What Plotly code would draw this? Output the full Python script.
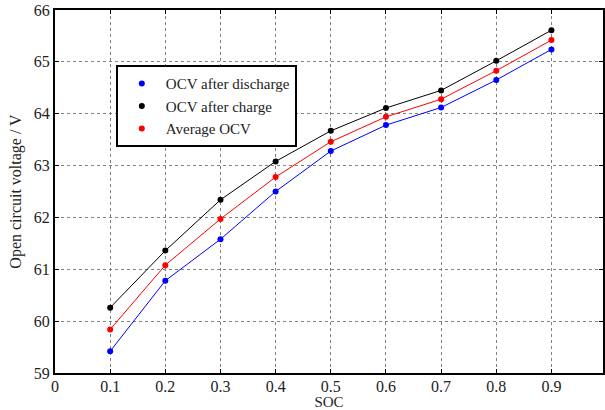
import plotly.graph_objects as go

# State of charge points and measured open circuit voltages (V)
soc = [0.1, 0.2, 0.3, 0.4, 0.5, 0.6, 0.7, 0.8, 0.9]
ocv_discharge = [59.42, 60.78, 61.58, 62.50, 63.28, 63.78, 64.12, 64.65, 65.24]
ocv_charge = [60.26, 61.36, 62.34, 63.08, 63.67, 64.11, 64.45, 65.02, 65.61]
ocv_average = [59.84, 61.08, 61.97, 62.78, 63.46, 63.94, 64.28, 64.83, 65.42]

series = [
    ("OCV after discharge", ocv_discharge, "#0000ff"),
    ("OCV after charge", ocv_charge, "#000000"),
    ("Average OCV", ocv_average, "#ff0000"),
]

FONT = "Liberation Serif"
TEXT_COLOR = "#222222"

fig = go.Figure()

# connecting lines (kept out of the legend)
for name, vals, color in series:
    fig.add_trace(go.Scatter(
        x=soc, y=vals, mode="lines", showlegend=False, hoverinfo="skip",
        line=dict(color=color, width=1),
    ))

# measurement points, shown as dots in the legend
for name, vals, color in series:
    fig.add_trace(go.Scatter(
        x=soc, y=vals, mode="markers", name=name,
        marker=dict(color=color, size=6),
    ))

axis_common = dict(
    showline=True, linecolor="black", linewidth=2, mirror="ticks",
    ticks="inside", ticklen=4, tickcolor="black", tickwidth=1,
    showgrid=True, gridcolor="#808080", gridwidth=1, griddash="dot",
    zeroline=False,
    tickfont=dict(family=FONT, size=16, color=TEXT_COLOR),
)

fig.update_xaxes(
    range=[0, 0.9935], tick0=0, dtick=0.1, ticklabelstandoff=-2,
    title=dict(text="SOC", font=dict(family=FONT, size=15, color=TEXT_COLOR), standoff=0),
    **axis_common,
)
fig.update_yaxes(
    range=[59, 66], dtick=1,
    title=dict(text="Open circuit voltage / V", font=dict(family=FONT, size=16, color=TEXT_COLOR), standoff=8),
    **axis_common,
)

fig.update_layout(
    width=605, height=410,
    margin=dict(l=55, r=0, t=10, b=37),
    paper_bgcolor="white", plot_bgcolor="white",
    font=dict(family=FONT, size=16, color=TEXT_COLOR),
    legend=dict(
        x=0.111, y=0.848, xanchor="left", yanchor="top",
        bgcolor="white", bordercolor="black", borderwidth=2,
        font=dict(family=FONT, size=15, color=TEXT_COLOR),
        itemwidth=38, tracegroupgap=0,
    ),
    showlegend=True,
)

fig.write_html("out.html")
